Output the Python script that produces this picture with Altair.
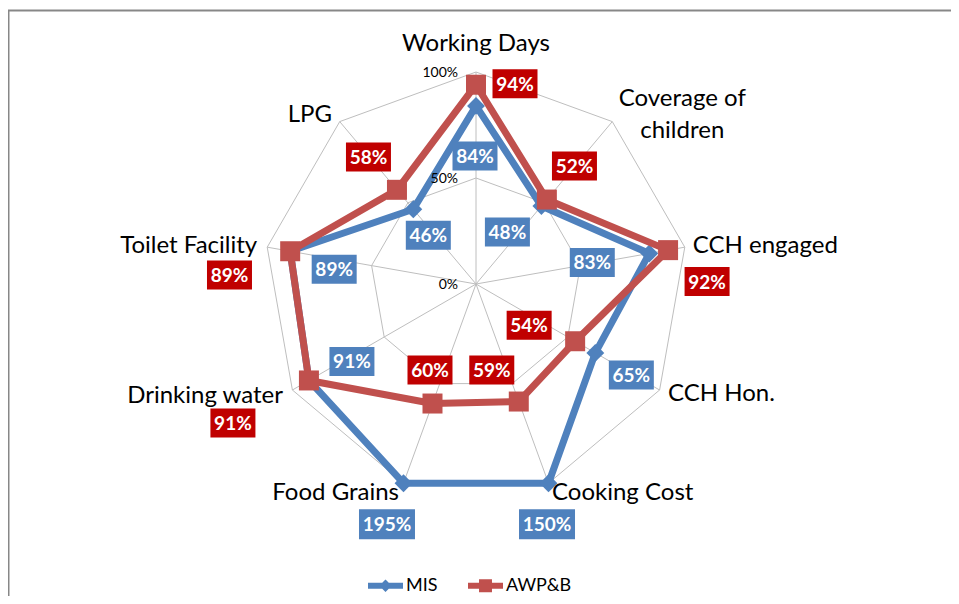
import math
import altair as alt
import pandas as pd

# ---------------- data ----------------
categories = ["Working Days", "Coverage of children", "CCH engaged", "CCH Hon.",
              "Cooking Cost", "Food Grains", "Drinking water", "Toilet Facility", "LPG"]
mis_values = [84, 48, 83, 65, 150, 195, 91, 89, 46]
awpb_values = [94, 52, 92, 54, 59, 60, 91, 89, 58]
series_names = ["MIS", "AWP&B"]
ring_values = [0, 50, 100]
ring_labels = ["0%", "50%", "100%"]
axis_max = 100

# ---------------- styling / layout ----------------
BLUE = "#4F81BD"
RED = "#C0504D"
RED_BOX = "#C00000"
BLUE_BOX = "#4F81BD"
GRID = "#BEBEBE"
FONT = "Lato"
R_PX = 212.0             # pixel radius of the 100% ring
CX, CY = 468.0, 276.0    # centre of the radar in plot-area pixels

cat_label_text = {"Coverage of children": "Coverage of\nchildren"}
cat_align = ["center", "center", "left", "left", "left", "right", "right", "right", "right"]
cat_dx = [0, 70, 8, 8.4, 3.5, -4.5, -9.4, -10, -7.7]
cat_dy = [-21, -15.6, 6, 11, 17, 17, 12.7, 6, 0.7]

mis_lab_dx = [-1, -34, -57, 36, -1.5, -16.5, 43, 44, 15]
mis_lab_dy = [50, 26, 9, 22, 41, 41, -19, 18, 26]
awp_lab_dx = [39, 27.6, 39, -46, -27, -2.5, -76, -60.7, -28.5]
awp_lab_dy = [-1, -33.6, 31.4, -16, -31.5, -33.5, 42.5, 23.8, -32.8]

N = len(categories)


def polar(v, i):
    r = min(v, axis_max) / axis_max
    t = 2 * math.pi * i / N
    return r * math.sin(t), r * math.cos(t)


xs = alt.Scale(domain=[-1, 1], range=[CX - R_PX, CX + R_PX])
ys = alt.Scale(domain=[-1, 1], range=[CY + R_PX, CY - R_PX])
X = alt.X("x:Q", scale=xs, axis=None)
Y = alt.Y("y:Q", scale=ys, axis=None)

# grid rings
grid_rows = []
for ring in ring_values[1:]:
    for k in range(N + 1):
        gx, gy = polar(ring, k % N)
        grid_rows.append({"ring": ring, "order": k, "x": gx, "y": gy})
grid_df = pd.DataFrame(grid_rows)

spoke_rows = []
for i in range(N):
    sx, sy = polar(axis_max, i)
    spoke_rows.append({"x": 0.0, "y": 0.0, "x2": sx, "y2": sy})
spoke_df = pd.DataFrame(spoke_rows)

tick_df = pd.DataFrame({"x": [0.0] * len(ring_values),
                        "y": [v / axis_max for v in ring_values],
                        "text": ring_labels})

layers = []
layers.append(alt.Chart(grid_df).mark_line(color=GRID, strokeWidth=1).encode(
    x=X, y=Y, order="order:Q", detail="ring:N"))
layers.append(alt.Chart(spoke_df).mark_rule(color=GRID, strokeWidth=1).encode(
    x=X, y=Y, x2="x2:Q", y2="y2:Q"))

series_info = [
    ("MIS", mis_values, BLUE, BLUE_BOX, "diamond", 320, mis_lab_dx, mis_lab_dy),
    ("AWP&B", awpb_values, RED, RED_BOX, "square", 400, awp_lab_dx, awp_lab_dy),
]

box_rows = []
for name, vals, col, boxcol, shape, msize, ldx, ldy in series_info:
    line_rows = []
    for k in range(N + 1):
        i = k % N
        px, py = polar(vals[i], i)
        line_rows.append({"order": k, "x": px, "y": py, "series": name})
    ldf = pd.DataFrame(line_rows)
    layers.append(alt.Chart(ldf).mark_line(color=col, strokeWidth=7, strokeJoin="round").encode(
        x=X, y=Y, order="order:Q"))
    layers.append(alt.Chart(ldf.iloc[:N]).mark_point(filled=True, shape=shape, size=msize,
                                                     color=col, opacity=1, strokeWidth=0).encode(
        x=X, y=Y))
    for i in range(N):
        px, py = polar(vals[i], i)
        box_rows.append({"x": px + ldx[i] / R_PX, "y": py - ldy[i] / R_PX,
                         "text": f"{vals[i]}%", "series": name,
                         "wide": len(str(vals[i])) > 2, "boxcol": boxcol})
box_df = pd.DataFrame(box_rows)

# radial axis labels (drawn over the series lines)
layers.append(alt.Chart(tick_df).mark_text(align="right", baseline="middle", dx=-18, dy=1,
                                           font=FONT, fontSize=14, color="black").encode(
    x=X, y=Y, text="text:N"))

BOX2 = "M-1,-0.644L1,-0.644L1,0.644L-1,0.644Z"
BOX3 = "M-1,-0.536L1,-0.536L1,0.536L-1,0.536Z"
for boxcol in [BLUE_BOX, RED_BOX]:
    for wide, path, size in [(False, BOX2, 45 * 45), (True, BOX3, 56 * 56)]:
        sub = box_df[(box_df["boxcol"] == boxcol) & (box_df["wide"] == wide)]
        if len(sub) == 0:
            continue
        layers.append(alt.Chart(sub).mark_point(filled=True, shape=path, size=size, color=boxcol,
                                                opacity=1, strokeWidth=0).encode(x=X, y=Y))
layers.append(alt.Chart(box_df).mark_text(font=FONT, fontSize=19, fontWeight="bold", color="white",
                                          baseline="middle", dy=1).encode(x=X, y=Y, text="text:N"))

# category labels
cat_rows = []
for i, c in enumerate(categories):
    vx, vy = polar(axis_max, i)
    cat_rows.append({"x": vx + cat_dx[i] / R_PX, "y": vy - cat_dy[i] / R_PX,
                     "text": cat_label_text.get(c, c), "align": cat_align[i]})
cat_df = pd.DataFrame(cat_rows)
for al in ["center", "left", "right"]:
    sub = cat_df[cat_df["align"] == al]
    layers.append(alt.Chart(sub).mark_text(align=al, baseline="alphabetic", font=FONT, fontSize=24,
                                           color="black", lineBreak="\n", lineHeight=32).encode(
        x=X, y=Y, text="text:N"))

# legend layer (invisible points that only produce the legend)
LEG_MIS = "M-1,-0.17L1,-0.17L1,0.17L-1,0.17Z M0,-0.36L0.36,0L0,0.36L-0.36,0Z"
LEG_AWP = "M-1,-0.17L1,-0.17L1,0.17L-1,0.17Z M-0.37,-0.37L0.37,-0.37L0.37,0.37L-0.37,0.37Z"
leg_df = pd.DataFrame({"series": series_names, "x": [0.0, 0.0], "y": [0.0, 0.0]})
legend = alt.Legend(orient="none", legendX=360, legendY=560, direction="horizontal", title=None,
                    symbolSize=1225, symbolStrokeWidth=0, symbolOpacity=1, labelFont=FONT,
                    labelFontSize=18, labelOffset=3, columnPadding=30, padding=0,
                    labelColor="black")
layers.append(alt.Chart(leg_df).mark_point(filled=True, opacity=0, size=1).encode(
    x=X, y=Y,
    color=alt.Color("series:N", scale=alt.Scale(domain=series_names, range=[BLUE, RED]), legend=legend),
    shape=alt.Shape("series:N", scale=alt.Scale(domain=series_names, range=[LEG_MIS, LEG_AWP]), legend=legend),
))

# chart-area border (left and top edges visible)
one = pd.DataFrame({"a": [0]})
layers.append(alt.Chart(one).mark_rule(color="#878787", strokeWidth=2).encode(
    x=alt.value(0.5), y=alt.value(2.5), y2=alt.value(588)))
layers.append(alt.Chart(one).mark_rule(color="#878787", strokeWidth=2).encode(
    x=alt.value(0), x2=alt.value(943), y=alt.value(2.5)))

chart = alt.layer(*layers).properties(
    width=943, height=588, padding=0,
    autosize=alt.AutoSizeParams(type="none"),
    background="white",
).configure_view(stroke=None)

chart.save("out.html", embed_options={"renderer": "svg", "actions": False})
